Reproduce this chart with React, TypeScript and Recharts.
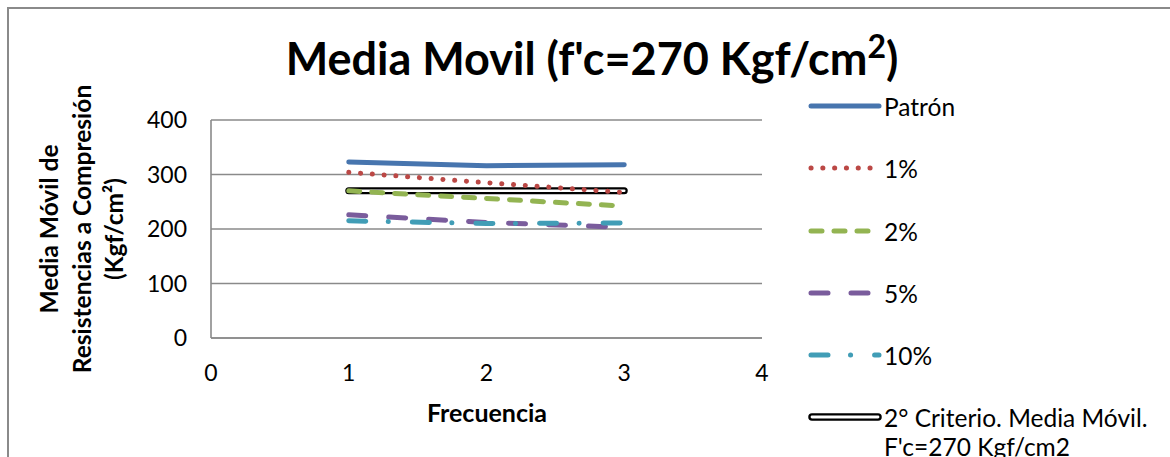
import React from "react";
import { LineChart, Line, XAxis, YAxis, CartesianGrid } from "recharts";

// Frecuencia (x) and moving-average values per mix
const frecuencia = [1, 2, 3];
const patron = [323, 316, 318];
const adicion1 = [304, 285, 267];
const adicion2 = [270, 256, 242];
const adicion5 = [226, 212, 203];
const adicion10 = [215, 210, 211];
const criterio = [270, 270, 270];

const xTicks = [0, 1, 2, 3, 4];
const yTicks = [0, 100, 200, 300, 400];

const FONT = "Lato, 'Open Sans', sans-serif";

const rows = frecuencia.map((f, i) => ({
  f,
  patron: patron[i],
  p1: adicion1[i],
  p2: adicion2[i],
  p5: adicion5[i],
  p10: adicion10[i],
  crit: criterio[i],
}));

type SeriesStyle = {
  key: string;
  name: string;
  color: string;
  dash?: string;
};

const series: SeriesStyle[] = [
  { key: "patron", name: "Patrón", color: "#4775AE" },
  { key: "p1", name: "1%", color: "#BB4845", dash: "0.1 11.7" },
  { key: "p2", name: "2%", color: "#93B452", dash: "11 12" },
  { key: "p5", name: "5%", color: "#7A5C9C", dash: "17 23" },
  { key: "p10", name: "10%", color: "#419DB6", dash: "17 22.5 0.1 24" },
];

const LW = 5;

function LegendBox() {
  const rowY = [106, 168, 231, 293, 355, 417];
  const fs = 24.5;
  return (
    <g>
      {series.map((s, i) => (
        <g key={s.key}>
          <line
            x1={811}
            x2={879}
            y1={rowY[i]}
            y2={rowY[i]}
            stroke={s.color}
            strokeWidth={LW}
            strokeLinecap="round"
            strokeDasharray={s.dash}
          />
          <text x={884} y={rowY[i]} dominantBaseline="central" fontSize={fs} fontFamily={FONT} fill="#000">
            {s.name}
          </text>
        </g>
      ))}
      <line x1={812} x2={878} y1={rowY[5]} y2={rowY[5]} stroke="#000" strokeWidth={7.5} strokeLinecap="round" />
      <line x1={812} x2={878} y1={rowY[5]} y2={rowY[5]} stroke="#fff" strokeWidth={2.8} strokeLinecap="round" />
      <text x={884} y={rowY[5]} dominantBaseline="central" fontSize={fs} fontFamily={FONT} fill="#000">
        2° Criterio. Media Móvil.
      </text>
      <text x={884} y={rowY[5] + 29} dominantBaseline="central" fontSize={fs} fontFamily={FONT} fill="#000">
        F'c=270 Kgf/cm2
      </text>
    </g>
  );
}

export default function App() {
  return (
    <div style={{ position: "absolute", left: 0, top: 0, width: 1170, height: 457, background: "#fff", overflow: "hidden" }}>
      <div
        style={{
          position: "absolute",
          left: 7,
          top: 7,
          width: 1200,
          height: 500,
          borderTop: "2px solid #8a8a8a",
          borderLeft: "2px solid #8a8a8a",
        }}
      />
      <div style={{ position: "absolute", left: 0, top: 0 }}>
        <LineChart width={1170} height={457} data={rows} margin={{ top: 120, right: 408, bottom: 0, left: 0 }}>
          <CartesianGrid horizontal vertical={false} stroke="#8a8a8a" strokeWidth={1.6} />
          <XAxis
            dataKey="f"
            type="number"
            domain={[0, 4]}
            ticks={xTicks}
            height={119}
            axisLine={{ stroke: "#8a8a8a", strokeWidth: 1.6 }}
            tickLine={false}
            tickSize={0}
            tickMargin={27}
            tick={{ fill: "#000", fontSize: 23, fontFamily: FONT }}
          />
          <YAxis
            type="number"
            domain={[0, 400]}
            ticks={yTicks}
            width={211}
            axisLine={{ stroke: "#8a8a8a", strokeWidth: 1.6 }}
            tickLine={false}
            tickSize={0}
            tickMargin={24}
            tick={{ fill: "#000", fontSize: 23, fontFamily: FONT }}
          />
          {/* criterion line: black band with white core, drawn beneath the series */}
          <Line dataKey="crit" stroke="#000" strokeWidth={7} strokeLinecap="round" dot={false} activeDot={false} isAnimationActive={false} legendType="none" />
          <Line dataKey="crit" stroke="#fff" strokeWidth={2.5} strokeLinecap="round" dot={false} activeDot={false} isAnimationActive={false} legendType="none" />
          {series.map((s) => (
            <Line
              key={s.key}
              dataKey={s.key}
              name={s.name}
              type="linear"
              stroke={s.color}
              strokeWidth={LW}
              strokeLinecap="round"
              strokeDasharray={s.dash}
              dot={false}
              activeDot={false}
              isAnimationActive={false}
            />
          ))}
        </LineChart>
      </div>
      <svg width={1170} height={457} style={{ position: "absolute", left: 0, top: 0, pointerEvents: "none" }}>
        <text x={592} y={75} textAnchor="middle" fontSize={45} fontWeight={700} fontFamily={FONT} fill="#000">
          Media Movil (f'c=270 Kgf/cm
          <tspan dy={-17} fontSize={32}>2</tspan>
          <tspan dy={17}>)</tspan>
        </text>
        <text x={487} y={412} textAnchor="middle" dominantBaseline="central" fontSize={25} fontWeight={700} fontFamily={FONT} fill="#000">
          Frecuencia
        </text>
        <g transform="rotate(-90 0 0)" fontSize={24.5} fontWeight={700} fontFamily={FONT} fill="#000">
          <text x={-229} y={48} textAnchor="middle" dominantBaseline="central">Media Móvil de</text>
          <text x={-229} y={81} textAnchor="middle" dominantBaseline="central">Resistencias a Compresión</text>
          <text x={-229} y={113} textAnchor="middle" dominantBaseline="central">(Kgf/cm²)</text>
        </g>
        <LegendBox />
      </svg>
    </div>
  );
}
